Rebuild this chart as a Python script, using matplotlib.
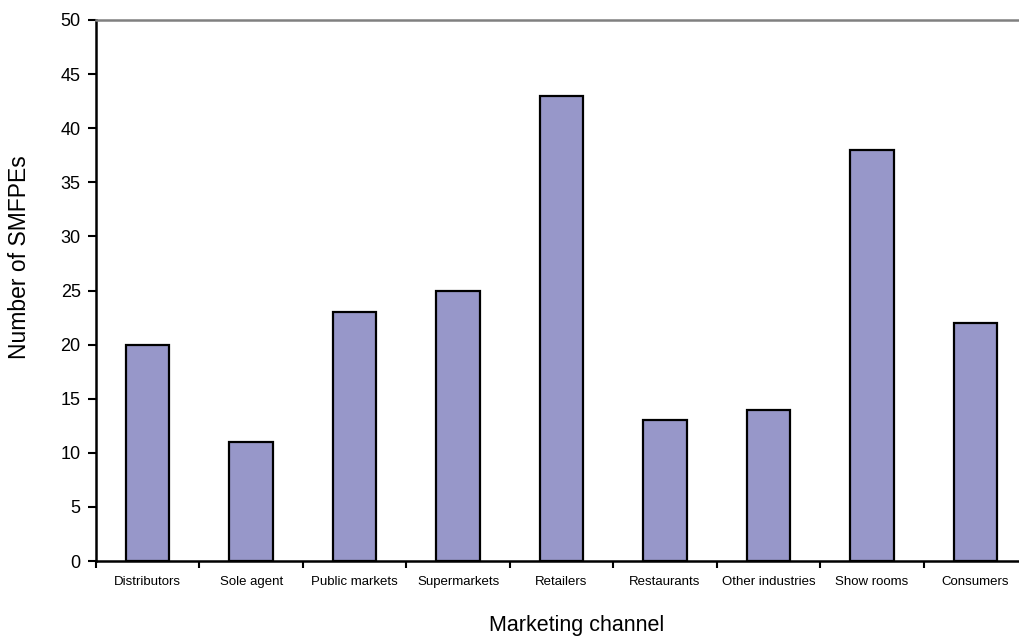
import matplotlib
matplotlib.use("Agg")
import matplotlib.pyplot as plt
import numpy as np

categories = ["Distributors", "Sole agent", "Public markets", "Supermarkets", "Retailers",
              "Restaurants", "Other industries", "Show rooms", "Consumers"]
values = [20, 11, 23, 25, 43, 13, 14, 38, 22]
yticks = [0, 5, 10, 15, 20, 25, 30, 35, 40, 45, 50]

plt.rcParams['font.family'] = ['Liberation Sans', 'DejaVu Sans']

fig = plt.figure(figsize=(10.19, 6.37), dpi=100)
ax = fig.add_axes([96/1019, 76/637, 931/1019, 541/637])

x = np.arange(len(categories))
ax.bar(x, values, width=0.42, color="#9797C9", edgecolor="black", linewidth=1.6, zorder=3)

ax.set_xlim(-0.5, len(categories) - 0.5)
ax.set_ylim(0, 50)
ax.set_yticks(yticks)
ax.set_yticklabels([str(v) for v in yticks], fontsize=13)

ax.set_xticks(x)
ax.set_xticklabels(categories, fontsize=9.5)
ax.tick_params(axis='x', which='major', length=0, pad=11)
ax.set_xticks(np.arange(-0.5, len(categories), 1), minor=True)
ax.tick_params(axis='x', which='minor', length=5, width=1.5, direction='out')
ax.tick_params(axis='y', length=6, width=1.5, direction='out', pad=5)

ax.spines['left'].set_linewidth(1.8)
ax.spines['bottom'].set_linewidth(1.8)
ax.spines['top'].set_color('#808080')
ax.spines['top'].set_linewidth(1.8)
ax.spines['right'].set_visible(False)

fig.text(20/1019, 1 - 257/637, "Number of SMFPEs", rotation=90, fontsize=16.5,
         ha='center', va='center')
fig.text(577/1019, 1 - 625/637, "Marketing channel", fontsize=15.5, ha='center', va='center')

fig.savefig("out.png", dpi=100)
